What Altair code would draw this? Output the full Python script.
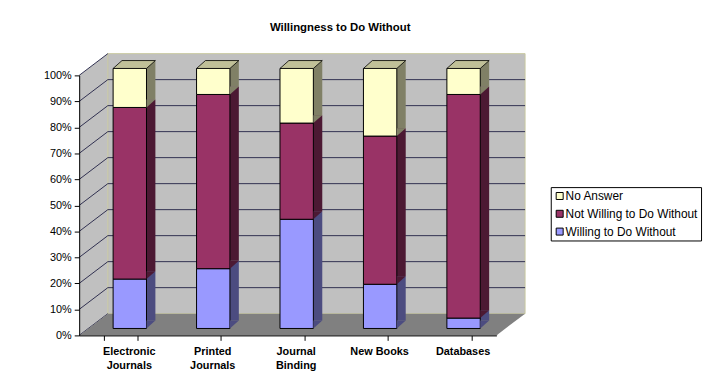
import altair as alt
import pandas as pd

# ---- data ----
categories = ["Electronic Journals", "Printed Journals", "Journal Binding", "New Books", "Databases"]
willing = [0.19, 0.23, 0.42, 0.17, 0.04]
not_willing = [0.66, 0.67, 0.37, 0.57, 0.86]
no_answer = [0.15, 0.10, 0.21, 0.26, 0.10]
series = ["No Answer", "Not Willing to Do Without", "Willing to Do Without"]
y_ticks = [0.0, 0.1, 0.2, 0.3, 0.4, 0.5, 0.6, 0.7, 0.8, 0.9, 1.0]
title_text = "Willingness to Do Without"

# ---- styling ----
front_colors = ["#ffffcc", "#993366", "#9999ff"]
side_colors = ["#808066", "#4c1933", "#4c4c80"]
top_color = "#c0c098"
FONT = "Liberation Sans"

W, H = 422, 263          # plot area (front axis frame)
DX, DY = 29, -22         # full depth of the 3D box
BX, BY = 9, -7           # front face of the columns
FX, FY = 9, -8           # depth of a column
P_IN, P_OUT = 0.6, 0.3
step = W / (len(categories) - P_IN + 2 * P_OUT)
hw = step * (1 - P_IN) / 2

rows = []
for i, c in enumerate(categories):
    for order, (s, v) in enumerate(zip(reversed(series), [willing[i], not_willing[i], no_answer[i]])):
        k = series.index(s)
        rows.append({"category": c, "series": s, "value": v, "order": order,
                     "side": side_colors[k]})
df = pd.DataFrame(rows)

yscale = alt.Scale(domain=[0, 1], nice=False, zero=True)
xscale = alt.Scale(paddingInner=P_IN, paddingOuter=P_OUT)
one = pd.DataFrame({"a": [0]})
grid_df = pd.DataFrame({"v": y_ticks})

x_axis = alt.Axis(title=None, labelAngle=0, labelFont=FONT, labelFontSize=11,
                  labelFontWeight="bold", labelColor="#000", tickBand="extent",
                  tickSize=5, labelPadding=5, labelOffset=8, labelLineHeight=14,
                  labelExpr="datum.label == 'New Books' ? datum.label : split(datum.label, ' ')",
                  domainColor="#000", tickColor="#000", zindex=1)
y_axis = alt.Axis(title=None, format=".0%", values=y_ticks, labelFont=FONT,
                  labelFontSize=11, labelColor="#000", tickSize=5, labelPadding=3,
                  domainColor="#000", tickColor="#000", grid=False, zindex=1)

X = alt.X("category:N", sort=categories, scale=xscale, axis=x_axis)


def Yd(v):
    return alt.Y(datum=v, scale=yscale, axis=y_axis)


def Yf(f):
    return alt.Y(f, scale=yscale, axis=y_axis)


# side wall (left)
side_wall = alt.Chart(one).mark_point(
    shape=f"M0,0 L0,{-H} L{DX},{-H + DY} L{DX},{DY} Z", size=4, filled=True,
    opacity=1, strokeWidth=0, color="#c0c0c0"
).encode(x=alt.value(0), y=Yd(0))

# back wall
back_wall = alt.Chart(one).mark_rect(
    color="#c0c0c0", yOffset=DY, y2Offset=DY, stroke="#c8c8a0", strokeWidth=1
).encode(x=alt.value(DX), x2=alt.value(W + DX), y=Yd(1), y2=alt.Y2(datum=0))

# floor
floor = alt.Chart(one).mark_point(
    shape=f"M0,0 L{DX},{DY} L{W + DX},{DY} L{W},0 Z", size=4, filled=True,
    opacity=1, strokeWidth=0, color="#808080"
).encode(x=alt.value(0), y=Yd(0))

# gridlines on back wall
back_grid = alt.Chart(grid_df).transform_filter("datum.v > 0 && datum.v < 1").mark_rule(
    color="#303050", strokeWidth=1, yOffset=DY
).encode(x=alt.value(DX), x2=alt.value(W + DX), y=Yf("v:Q"))

# diagonal gridlines on the side wall
side_grid = alt.Chart(grid_df).mark_rule(
    color="#303050", strokeWidth=1, y2Offset=DY
).encode(x=alt.value(0), x2=alt.value(DX), y=Yf("v:Q"), y2=alt.Y2("v:Q"))

base = alt.Chart(df).transform_stack(
    stack="value", as_=["y0", "y1"], groupby=["category"],
    sort=[alt.SortField("order", order="ascending")]
)

side_faces = base.mark_bar(
    xOffset=BX + FX, x2Offset=BX + FX, yOffset=BY + FY, y2Offset=BY + FY, strokeWidth=0
).encode(
    x=X, y=Yf("y1:Q"), y2="y0:Q",
    color=alt.Color("side:N", scale=None),
)

front = base.mark_bar(
    xOffset=BX, x2Offset=BX, yOffset=BY, y2Offset=BY, stroke="#000", strokeWidth=1
).encode(
    x=X, y=Yf("y1:Q"), y2="y0:Q",
    color=alt.Color("series:N", scale=alt.Scale(domain=series, range=front_colors),
                    legend=alt.Legend(orient="none", legendX=477, legendY=113, title=None,
                                      fillColor="#fff", strokeColor="#000", padding=3,
                                      labelFont=FONT, labelFontSize=12, labelColor="#000",
                                      symbolType="square", symbolSize=50,
                                      symbolStrokeColor="#000", symbolStrokeWidth=1,
                                      labelOffset=0, rowPadding=6)),
)

tri = base.mark_point(
    shape=f"M{hw},0 L{hw + FX},{FY} L{hw},{FY} Z", size=4, filled=True, opacity=1,
    strokeWidth=0, xOffset=BX, yOffset=BY
).encode(
    x=X, y=Yf("y0:Q"),
    color=alt.Color("side:N", scale=None),
)

top_face = base.transform_filter("datum.order == 2").mark_point(
    shape=f"M{-hw},0 L{hw},0 L{hw + FX},{FY} L{-hw + FX},{FY} Z", size=4, filled=True,
    opacity=1, fill=top_color, stroke="#000", strokeWidth=0.8, xOffset=BX, yOffset=BY
).encode(x=X, y=Yf("y1:Q"))

title = alt.Chart(pd.DataFrame({"t": [title_text]})).mark_text(
    font=FONT, fontSize=11.5, fontWeight="bold", color="#000", align="center",
    baseline="alphabetic"
).encode(text="t:N", x=alt.value(264), y=alt.value(-45))

chart = alt.layer(
    side_wall, back_wall, back_grid, side_grid, floor, side_faces, front, tri, top_face, title
).properties(
    width=W, height=H,
    autosize=alt.AutoSizeParams(type="none"),
    padding={"left": 72, "top": 66, "right": 211, "bottom": 47},
).configure_view(stroke=None).configure(font=FONT)

chart.save("out.html", embed_options={"renderer": "svg", "actions": False})
